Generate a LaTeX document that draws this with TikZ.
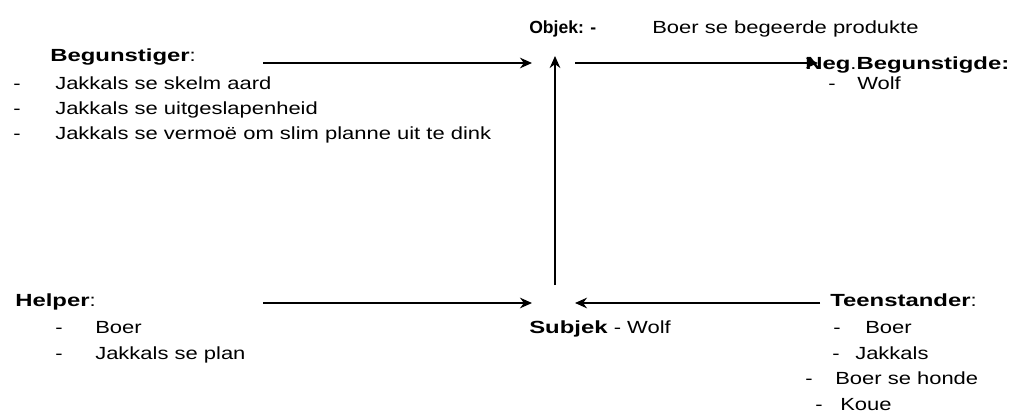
\documentclass[tikz,border=0pt]{standalone}
\usepackage{fontspec}
\setmainfont{Liberation Sans}[FakeStretch=1.25,BoldFeatures={FakeStretch=1.36}]
\newfontfamily\objfont{Liberation Sans}
\usetikzlibrary{arrows.meta}

\begin{document}
\begin{tikzpicture}[>={Stealth[length=8.5pt,width=7.5pt]},x=0.025cm,y=-0.025cm,
    txt/.style={anchor=base west,inner sep=0pt,font=\fontsize{12.5}{15}\selectfont},
    pyl/.style={->,line width=1.4pt}]
            \useasboundingbox (0,0) rectangle (1018,414);
            \node[txt] (ben) at (50,61) {\textbf{Begunstiger}:};
            \node[txt] (benD1) at (13,89) {-};
            \node[txt] (ben1) at (55,89) {Jakkals se skelm aard};
            \node[txt] (benD2) at (13,114) {-};
            \node[txt] (ben2) at (55,114) {Jakkals se uitgeslapenheid};
            \node[txt] (benD3) at (13,139) {-};
            \node[txt] (ben3) at (55,139) {Jakkals se vermoë om slim planne uit te dink};
            \node[txt] (obj) at (529,33) {\objfont\bfseries Objek: -};
            \node[txt] (objT) at (652,33) {Boer se begeerde produkte};
            \node[txt] (neg) at (805,69) {\textbf{Neg}.\textbf{Begunstigde:}};
            \node[txt] (negD1) at (828,89) {-};
            \node[txt] (neg1) at (857,89) {Wolf};
            \node[txt] (help) at (15,306) {\textbf{Helper}:};
            \node[txt] (helpD1) at (55,333) {-};
            \node[txt] (help1) at (95,333) {Boer};
            \node[txt] (helpD2) at (55,359) {-};
            \node[txt] (help2) at (95,359) {Jakkals se plan};
            \node[txt] (subj) at (529,333) {\textbf{Subjek} - Wolf};
            \node[txt] (opp) at (830,306) {\textbf{Teenstander}:};
            \node[txt] (oppD1) at (833,333) {-};
            \node[txt] (opp1) at (865,333) {Boer};
            \node[txt] (oppD2) at (832,359) {-};
            \node[txt] (opp2) at (855,359) {Jakkals};
            \node[txt] (oppD3) at (805,384) {-};
            \node[txt] (opp3) at (835,384) {Boer se honde};
            \node[txt] (oppD4) at (815,410) {-};
            \node[txt] (opp4) at (840,410) {Koue};
            \coordinate (benStart) at (263,63);
            \coordinate (objWest) at (532,63);
            \coordinate (objSouth) at (555,56);
            \coordinate (objEast) at (575,63);
            \coordinate (negWest) at (818,63);
            \coordinate (helpStart) at (263,303);
            \coordinate (subjWest) at (532,303);
            \coordinate (subjNorth) at (555,285);
            \coordinate (subjEast) at (575,303);
            \coordinate (oppStart) at (820,303);
            \draw[pyl] (benStart) -- (objWest);
            \draw[pyl] (subjNorth) -- (objSouth);
            \draw[pyl] (objEast) -- (negWest);
            \draw[pyl] (helpStart) -- (subjWest);
            \draw[pyl] (oppStart) -- (subjEast);
        \end{tikzpicture}
\end{document}
